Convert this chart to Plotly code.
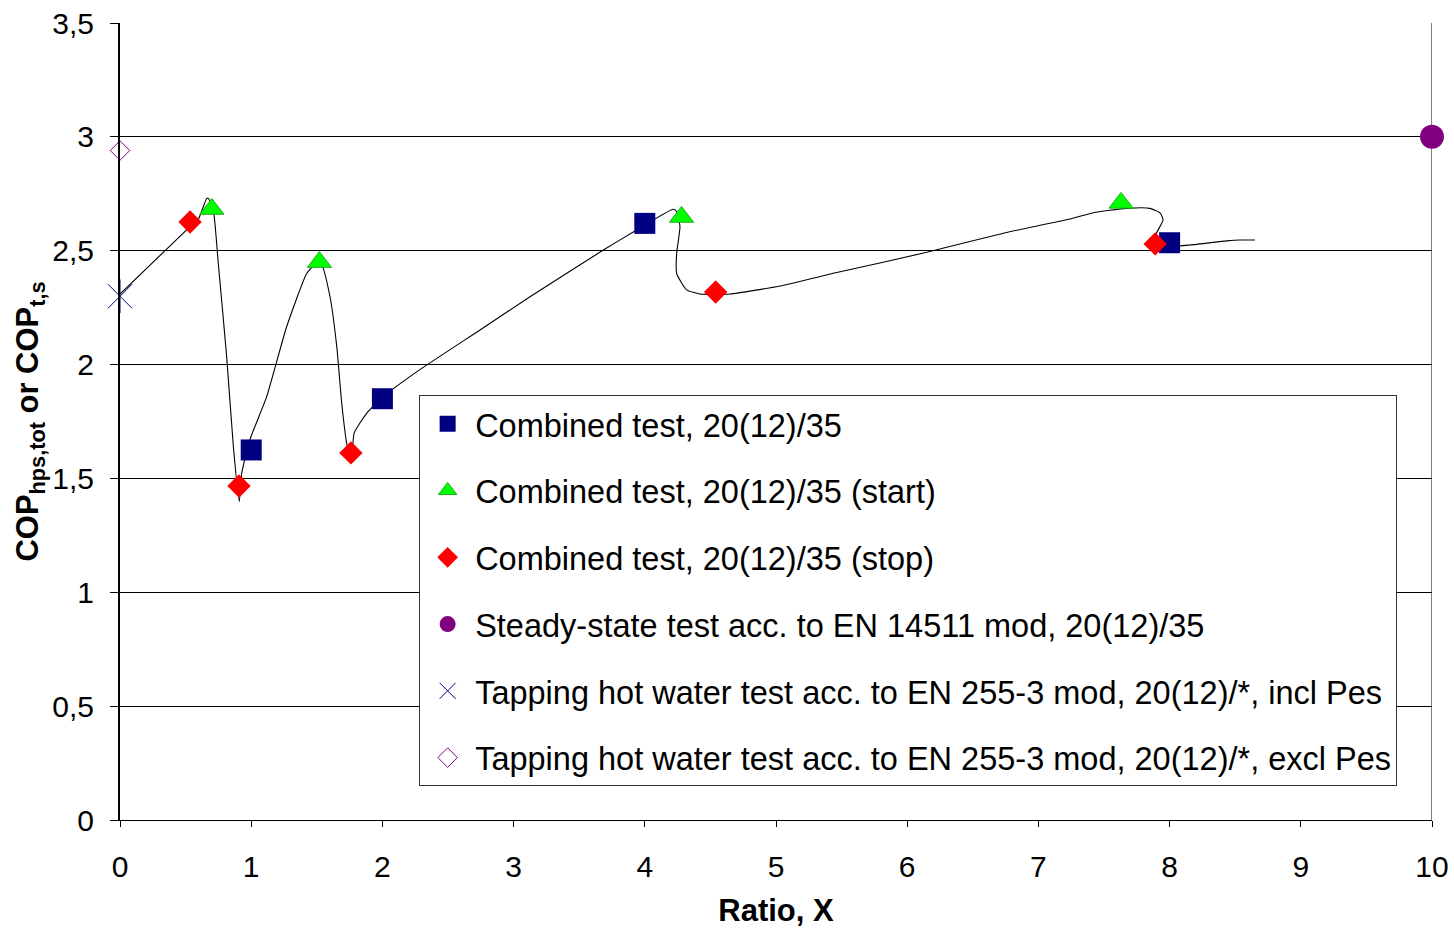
import plotly.graph_objects as go

# Marker series
sq_x = [1.0, 2.0, 4.0, 8.0]
sq_y = [1.625, 1.85, 2.62, 2.535]

tri_x = [0.70, 1.52, 4.28, 7.63]
tri_y = [2.683, 2.45, 2.648, 2.71]

dia_x = [0.534, 0.907, 1.76, 4.54, 7.89]
dia_y = [2.626, 1.467, 1.612, 2.319, 2.53]

ss_x = [10.0]
ss_y = [3.0]

tap_incl_x = [0.0]
tap_incl_y = [2.30]

tap_excl_x = [0.0]
tap_excl_y = [2.94]

# Continuous measured curve
curve_x = [0, 0.534, 0.60, 0.661, 0.673, 0.711, 0.749, 0.813, 0.864, 0.909, 0.927, 0.99,
           1.118, 1.27, 1.423, 1.486, 1.537, 1.60, 1.652, 1.69, 1.728, 1.766, 1.784, 1.88,
           2.007, 2.261, 2.744, 3.125, 3.684, 3.938, 4.217, 4.243, 4.268, 4.243, 4.243,
           4.319, 4.42, 4.649, 5.03, 5.463, 6.149, 6.733, 7.24, 7.418, 7.672, 7.85, 7.93,
           7.95, 7.90, 7.88, 7.93, 8.155, 8.435, 8.537, 8.65]
curve_y = [2.31, 2.606, 2.642, 2.73, 2.73, 2.68, 2.445, 2.035, 1.64, 1.398, 1.52, 1.67,
           1.859, 2.166, 2.40, 2.44, 2.437, 2.30, 2.08, 1.83, 1.654, 1.574, 1.698, 1.786,
           1.859, 1.968, 2.152, 2.298, 2.503, 2.591, 2.682, 2.672, 2.606, 2.489, 2.40,
           2.328, 2.31, 2.31, 2.345, 2.404, 2.493, 2.577, 2.639, 2.667, 2.686, 2.686, 2.664,
           2.635, 2.577, 2.533, 2.518, 2.525, 2.543, 2.547, 2.547]

names = [
    "Combined test, 20(12)/35",
    "Combined test, 20(12)/35 (start)",
    "Combined test, 20(12)/35 (stop)",
    "Steady-state test acc. to EN 14511 mod, 20(12)/35",
    "Tapping hot water test acc. to EN 255-3 mod, 20(12)/*, incl Pes",
    "Tapping hot water test acc. to EN 255-3 mod, 20(12)/*, excl Pes",
]

FONT = "Liberation Sans, Arial, sans-serif"

fig = go.Figure()

fig.add_trace(go.Scatter(x=curve_x, y=curve_y, mode="lines",
                         line=dict(color="black", width=1.1, shape="spline", smoothing=0.5),
                         showlegend=False, hoverinfo="skip"))

fig.add_trace(go.Scatter(x=sq_x, y=sq_y, mode="markers", name=names[0], legendgroup="a",
                         marker=dict(symbol="square", size=21, color="#000080",
                                     line=dict(color="#000080", width=0))))
fig.add_trace(go.Scatter(x=tri_x, y=tri_y, mode="markers", name=names[1], legendgroup="b",
                         marker=dict(symbol="triangle-up", size=21, color="#00FF00",
                                     line=dict(color="#22aa22", width=1))))
fig.add_trace(go.Scatter(x=dia_x, y=dia_y, mode="markers", name=names[2], legendgroup="c",
                         marker=dict(symbol="diamond", size=18, color="#FF0000",
                                     line=dict(color="#FF0000", width=0))))
fig.add_trace(go.Scatter(x=ss_x, y=ss_y, mode="markers", name=names[3], legendgroup="d",
                         cliponaxis=False,
                         marker=dict(symbol="circle", size=24, color="#800080",
                                     line=dict(color="#800080", width=0))))
fig.add_trace(go.Scatter(x=tap_incl_x, y=tap_incl_y, mode="markers", name=names[4], legendgroup="e",
                         cliponaxis=False,
                         marker=dict(symbol="x-thin-open", size=24, color="#000080",
                                     line=dict(color="#000080", width=1))))
fig.add_trace(go.Scatter(x=tap_incl_x, y=tap_incl_y, mode="markers", showlegend=False,
                         legendgroup="e", cliponaxis=False, hoverinfo="skip",
                         marker=dict(symbol="line-ns-open", size=24, color="#000080",
                                     line=dict(color="#000080", width=1))))
fig.add_trace(go.Scatter(x=tap_excl_x, y=tap_excl_y, mode="markers", name=names[5], legendgroup="f",
                         cliponaxis=False,
                         marker=dict(symbol="diamond-open", size=15, color="#800080",
                                     line=dict(color="#800080", width=1))))

fig.add_shape(type="line", xref="x", yref="y", x0=10, x1=10, y0=0, y1=3.5,
              line=dict(color="#808080", width=2), layer="below")

fig.update_layout(
    width=1454, height=928, autosize=False,
    margin=dict(l=120, r=22, t=23, b=108),
    paper_bgcolor="white", plot_bgcolor="white",
    separators=", ",
    font=dict(family=FONT, size=30, color="black"),
    showlegend=True,
    legend=dict(x=0.228, y=0.533, xanchor="left", yanchor="top",
                bgcolor="white", bordercolor="#333333", borderwidth=1,
                font=dict(family=FONT, size=32.5, color="black"),
                tracegroupgap=21.5, itemsizing="trace", itemwidth=45),
    xaxis=dict(range=[0, 10], tickvals=[0, 1, 2, 3, 4, 5, 6, 7, 8, 9, 10],
               automargin=False,
               showgrid=False, zeroline=False, showline=True, linecolor="black", linewidth=1,
               ticks="outside", ticklen=6, tickcolor="black", ticklabelstandoff=14,
               tickfont=dict(family=FONT, size=30),
               title=dict(text="<b>Ratio, X</b>", font=dict(family=FONT, size=31), standoff=18)),
    yaxis=dict(range=[0, 3.5], tickvals=[0, 0.5, 1, 1.5, 2, 2.5, 3, 3.5],
               automargin=False,
               showgrid=True, gridcolor="black", gridwidth=1,
               zeroline=False, showline=True, linecolor="black", linewidth=2,
               ticks="outside", ticklen=8, tickcolor="black", ticklabelstandoff=10,
               tickfont=dict(family=FONT, size=30),
               title=dict(text="<b>COP<sub>hps,tot</sub> or COP<sub>t,s</sub></b>",
                          font=dict(family=FONT, size=31), standoff=4)),
)

fig.write_html("out.html")
